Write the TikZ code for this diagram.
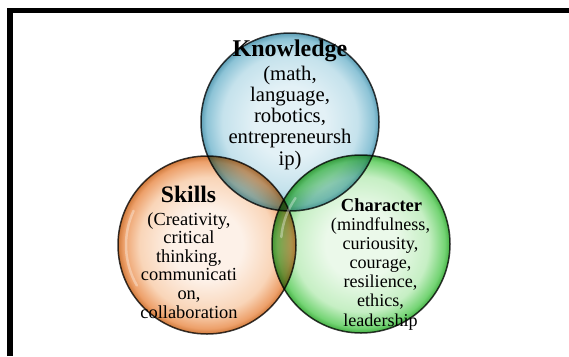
\documentclass[tikz,border=0pt]{standalone}
\usepackage{fontspec}
\setmainfont{Liberation Serif}
\newcommand\vlines[1]{\vtop{\lineskiplimit=-30pt\lineskip=0pt\halign{\hfil##\hfil\cr#1\crcr}}}
% blue bubble
\definecolor{bA}{HTML}{E3F1F6}\definecolor{bB}{HTML}{C5E2EC}\definecolor{bC}{HTML}{8CC3D6}\definecolor{bD}{HTML}{5E9FB6}
% orange bubble
\definecolor{oA}{HTML}{FDF1E8}\definecolor{oB}{HTML}{F9D5B8}\definecolor{oC}{HTML}{EDA06A}\definecolor{oD}{HTML}{D07A3C}
% green bubble
\definecolor{gA}{HTML}{EBF9EA}\definecolor{gB}{HTML}{C6EFC4}\definecolor{gC}{HTML}{74D474}\definecolor{gD}{HTML}{45B045}
\pgfdeclareradialshading{bubbleblue}{\pgfpoint{0bp}{0bp}}{color(0bp)=(bA); color(10bp)=(bA); color(19bp)=(bB); color(23.5bp)=(bC); color(25bp)=(bD); color(50bp)=(bD)}
\pgfdeclareradialshading{bubbleorange}{\pgfpoint{0bp}{0bp}}{color(0bp)=(oA); color(10bp)=(oA); color(19bp)=(oB); color(23.5bp)=(oC); color(25bp)=(oD); color(50bp)=(oD)}
\pgfdeclareradialshading{bubblegreen}{\pgfpoint{0bp}{0bp}}{color(0bp)=(gA); color(10bp)=(gA); color(19bp)=(gB); color(23.5bp)=(gC); color(25bp)=(gD); color(50bp)=(gD)}
\begin{document}
\begin{tikzpicture}[x=1pt,y=-1pt,
  bubble/.style={circle,minimum size=178pt,inner sep=0pt,draw=black!85,draw opacity=0.9,line width=1.5pt},
  gloss/.style={white,line width=2.5pt,opacity=0.35,line cap=round},
  title/.style={anchor=base,inner sep=0pt,font=\bfseries\fontsize{#1}{#1}\selectfont}]
\useasboundingbox (0,0) rectangle (569,356);
\fill[white] (0,0) rectangle (569,356);
% frame
\draw[line width=5.5pt] (10,356) -- (10,10.5) -- (569,10.5);
% bubbles
\begin{scope}[blend mode=multiply]
\node[bubble,shading=bubbleorange] (skills) at (207,245) {};
\node[bubble,shading=bubblegreen] (character) at (361,244) {};
\node[bubble,shading=bubbleblue] (knowledge) at (290,122) {};
\end{scope}
% gloss highlights
\draw[gloss] (skills.center) ++(150:81) arc[start angle=150,end angle=205,radius=81];
\draw[gloss] (character.center) ++(185:80) arc[start angle=185,end angle=215,radius=80];
% texts
\node[title=24] (ktitle) at (290,56) {Knowledge};
\node[anchor=base,inner sep=0pt,font=\fontsize{20.7}{21.3}\selectfont] (ktext) at (290,80) {\vlines{(math,\cr language,\cr robotics,\cr entrepreneursh\cr ip)}};
\node[title=23.6] (stitle) at (188.5,202) {Skills};
\node[anchor=base,inner sep=0pt,font=\fontsize{18.4}{18.6}\selectfont] (stext) at (189,225) {\vlines{(Creativity,\cr critical\cr thinking,\cr communicati\cr on,\cr collaboration}};
\node[title=18.5] (ctitle) at (381.5,211) {Character};
\node[anchor=base,inner sep=0pt,font=\fontsize{18.1}{19.2}\selectfont] (ctext) at (380.5,230) {\vlines{(mindfulness,\cr curiousity,\cr courage,\cr resilience,\cr ethics,\cr leadership}};
\end{tikzpicture}
\end{document}
